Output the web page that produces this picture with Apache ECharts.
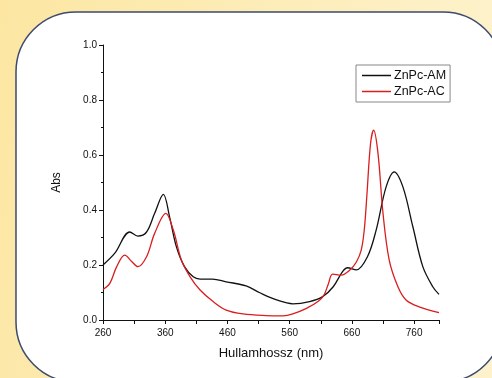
<!DOCTYPE html>
<html>
<head>
<meta charset="utf-8">
<script src="https://cdn.jsdelivr.net/npm/echarts@6/dist/echarts.min.js"></script>
<style>
  html, body { margin: 0; padding: 0; overflow: hidden; }
  #chart { width: 492px; height: 378px; }
</style>
</head>
<body>
<div id="chart"></div>
<script>
// ZnPc-AM (black)
const amWavelength = [260, 279, 303, 316, 330, 343, 357, 367, 378, 391, 405, 416, 436, 458, 490, 512, 539, 565, 592, 613, 630, 645, 653, 667, 685, 699, 715, 728, 742, 758, 774, 790, 800];
const amAbs = [0.20, 0.243, 0.32, 0.305, 0.32, 0.388, 0.457, 0.375, 0.266, 0.194, 0.157, 0.149, 0.149, 0.139, 0.124, 0.099, 0.073, 0.059, 0.067, 0.085, 0.121, 0.176, 0.19, 0.182, 0.23, 0.327, 0.484, 0.539, 0.484, 0.339, 0.194, 0.121, 0.093];

// ZnPc-AC (red)
const acWavelength = [260, 271, 282, 295, 306, 316, 330, 343, 361, 373, 386, 400, 416, 437, 458, 485, 522, 549, 565, 587, 606, 615, 622, 629, 643, 656, 667, 675, 680, 684, 690, 695, 702, 710, 720, 734, 747, 768, 800];
const acAbs = [0.111, 0.133, 0.194, 0.236, 0.213, 0.194, 0.23, 0.315, 0.388, 0.327, 0.218, 0.157, 0.109, 0.067, 0.036, 0.022, 0.016, 0.015, 0.022, 0.042, 0.068, 0.09, 0.13, 0.167, 0.163, 0.18, 0.21, 0.254, 0.33, 0.45, 0.642, 0.69, 0.605, 0.388, 0.218, 0.121, 0.073, 0.048, 0.027];

const seriesNames = ["ZnPc-AM", "ZnPc-AC"];
const xTicks = { min: 260, max: 800, interval: 100 };
const yTicks = { min: 0, max: 1.0, interval: 0.2 };

const zip = (xs, ys) => xs.map((x, i) => [x, ys[i]]);

const chart = echarts.init(document.getElementById("chart"), null, { renderer: "canvas" });
const font = "Liberation Sans";

chart.setOption({
  animation: false,
  backgroundColor: new echarts.graphic.LinearGradient(0, 0, 1, 0.3, [
    { offset: 0, color: "#fce6a2" },
    { offset: 1, color: "#fdf2cc" },
  ]),
  textStyle: { fontFamily: font },
  graphic: [
    {
      type: "rect",
      z: -10,
      shape: { x: 16, y: 12, width: 487, height: 370, r: 60 },
      style: { fill: "#ffffff", stroke: "#3c4a6e", lineWidth: 1.5 },
    },
  ],
  grid: { left: 103, right: 53, top: 45, bottom: 58 },
  legend: {
    orient: "vertical",
    left: 356,
    top: 65,
    padding: [4, 4, 4, 6],
    itemGap: 3,
    itemWidth: 29,
    itemHeight: 1.5,
    icon: "rect",
    borderColor: "#888",
    borderWidth: 1,
    borderRadius: 0,
    textStyle: { fontFamily: font, fontSize: 12.5, color: "#111", padding: [0, 0, 0, -2] },
    data: seriesNames,
  },
  xAxis: {
    type: "value",
    min: xTicks.min,
    max: xTicks.max,
    interval: xTicks.interval,
    name: "Hullamhossz (nm)",
    nameLocation: "middle",
    nameGap: 27,
    nameTextStyle: { fontFamily: font, fontSize: 13, color: "#111" },
    axisLine: { lineStyle: { color: "#111", width: 1 } },
    axisTick: { length: 4, lineStyle: { color: "#111" } },
    minorTick: { show: true, splitNumber: 2, length: 4, lineStyle: { color: "#111" } },
    axisLabel: { fontFamily: font, fontSize: 10, color: "#111", margin: 8, showMaxLabel: false },
    splitLine: { show: false },
  },
  yAxis: {
    type: "value",
    min: yTicks.min,
    max: yTicks.max,
    interval: yTicks.interval,
    name: "Abs",
    nameLocation: "middle",
    nameGap: 40,
    nameTextStyle: { fontFamily: font, fontSize: 12, color: "#111" },
    axisLine: { show: true, lineStyle: { color: "#111", width: 1 } },
    axisTick: { show: true, length: 4, lineStyle: { color: "#111" } },
    minorTick: { show: true, splitNumber: 2, length: 2, lineStyle: { color: "#111" } },
    axisLabel: { fontFamily: font, fontSize: 10, color: "#111", margin: 6, formatter: (v) => v.toFixed(1) },
    splitLine: { show: false },
  },
  series: [
    {
      name: seriesNames[0],
      type: "line",
      data: zip(amWavelength, amAbs),
      smooth: 0.35,
      showSymbol: false,
      color: "#111111",
      lineStyle: { width: 1.3, color: "#111111" },
    },
    {
      name: seriesNames[1],
      type: "line",
      data: zip(acWavelength, acAbs),
      smooth: 0.35,
      showSymbol: false,
      color: "#d81e1e",
      lineStyle: { width: 1.3, color: "#d81e1e" },
    },
  ],
});
</script>
</body>
</html>
